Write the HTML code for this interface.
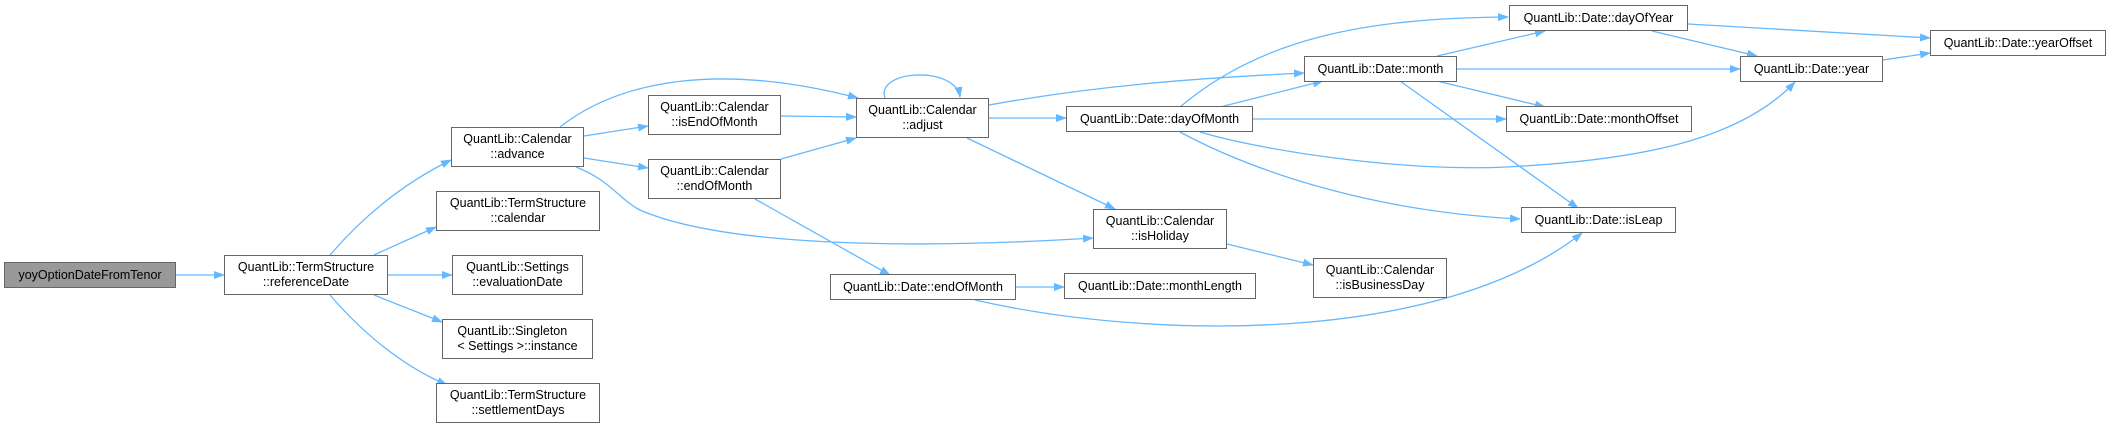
<!DOCTYPE html>
<html><head><meta charset="utf-8"><style>
html,body{margin:0;padding:0;background:#fff;}
.n{position:absolute;box-sizing:border-box;border:1px solid #666;background:#fff;font:12.5px/15px "Liberation Sans",sans-serif;color:#000;text-align:center;display:flex;align-items:center;justify-content:center;white-space:nowrap;}
</style></head><body>
<div style="position:relative;width:2112px;height:429px;overflow:hidden;">
<svg width="2112" height="429" style="position:absolute;left:0;top:0">
<defs><marker id="a" markerWidth="11" markerHeight="8" refX="10" refY="4" orient="auto" markerUnits="userSpaceOnUse"><path d="M0,0 L11,4 L0,8 z" fill="#63b8ff"/></marker></defs>
<g fill="none" stroke="#63b8ff" stroke-width="1.3" marker-end="url(#a)">
<path d="M176 275 L224 275"/>
<path d="M330 255 C360 220,400 185,451 160"/>
<path d="M374 255 L436 227"/>
<path d="M388 275 L452 275"/>
<path d="M374 295 L442 322"/>
<path d="M330 295 C360 330,400 365,447 385"/>
<path d="M584 136 L648 126"/>
<path d="M584 158 L648 168"/>
<path d="M560 127 C620 80,720 62,858 98"/>
<path d="M576 167 C610 180,620 200,640 210 C720 245,900 250,1093 238"/>
<path d="M781 116 L856 117"/>
<path d="M781 159 L856 138"/>
<path d="M755 199 L890 275"/>
<path d="M885 98 C875 70,955 65,960 97"/>
<path d="M989 105 C1100 85,1200 78,1304 73"/>
<path d="M989 118 L1066 118"/>
<path d="M967 138 L1115 209"/>
<path d="M1180 107 C1260 40,1360 18,1508 17"/>
<path d="M1220 107 L1323 81"/>
<path d="M1253 119 L1506 119"/>
<path d="M1200 132 C1260 150,1400 172,1507 167 C1640 160,1740 140,1795 82"/>
<path d="M1180 132 C1260 175,1380 212,1520 219"/>
<path d="M1437 56 L1545 31"/>
<path d="M1457 69 L1740 69"/>
<path d="M1437 81 L1545 107"/>
<path d="M1400 81 L1578 208"/>
<path d="M1688 24 L1930 38"/>
<path d="M1652 31 L1757 56"/>
<path d="M1883 60 L1930 53"/>
<path d="M1227 244 L1313 265"/>
<path d="M1016 287 L1064 287"/>
<path d="M975 300 C1150 340,1440 345,1582 233"/>
</g></svg>
<div class="n" style="left:4px;top:262px;width:172px;height:26px;background:#999;">yoyOptionDateFromTenor</div>
<div class="n" style="left:224px;top:255px;width:164px;height:40px;">QuantLib::TermStructure<br>::referenceDate</div>
<div class="n" style="left:451px;top:127px;width:133px;height:40px;">QuantLib::Calendar<br>::advance</div>
<div class="n" style="left:436px;top:191px;width:164px;height:40px;">QuantLib::TermStructure<br>::calendar</div>
<div class="n" style="left:452px;top:255px;width:131px;height:40px;">QuantLib::Settings<br>::evaluationDate</div>
<div class="n" style="left:442px;top:319px;width:151px;height:40px;text-align:left;">QuantLib::Singleton<br>&lt; Settings &gt;::instance</div>
<div class="n" style="left:436px;top:383px;width:164px;height:40px;">QuantLib::TermStructure<br>::settlementDays</div>
<div class="n" style="left:648px;top:95px;width:133px;height:40px;">QuantLib::Calendar<br>::isEndOfMonth</div>
<div class="n" style="left:648px;top:159px;width:133px;height:40px;">QuantLib::Calendar<br>::endOfMonth</div>
<div class="n" style="left:856px;top:98px;width:133px;height:40px;">QuantLib::Calendar<br>::adjust</div>
<div class="n" style="left:1066px;top:106px;width:187px;height:26px;">QuantLib::Date::dayOfMonth</div>
<div class="n" style="left:1093px;top:209px;width:134px;height:40px;">QuantLib::Calendar<br>::isHoliday</div>
<div class="n" style="left:830px;top:274px;width:186px;height:26px;">QuantLib::Date::endOfMonth</div>
<div class="n" style="left:1064px;top:273px;width:192px;height:26px;">QuantLib::Date::monthLength</div>
<div class="n" style="left:1509px;top:5px;width:179px;height:26px;">QuantLib::Date::dayOfYear</div>
<div class="n" style="left:1304px;top:56px;width:153px;height:26px;">QuantLib::Date::month</div>
<div class="n" style="left:1506px;top:106px;width:186px;height:26px;">QuantLib::Date::monthOffset</div>
<div class="n" style="left:1740px;top:56px;width:143px;height:26px;">QuantLib::Date::year</div>
<div class="n" style="left:1930px;top:30px;width:176px;height:26px;">QuantLib::Date::yearOffset</div>
<div class="n" style="left:1521px;top:207px;width:155px;height:26px;">QuantLib::Date::isLeap</div>
<div class="n" style="left:1313px;top:258px;width:134px;height:40px;">QuantLib::Calendar<br>::isBusinessDay</div>
</div>
</body></html>
